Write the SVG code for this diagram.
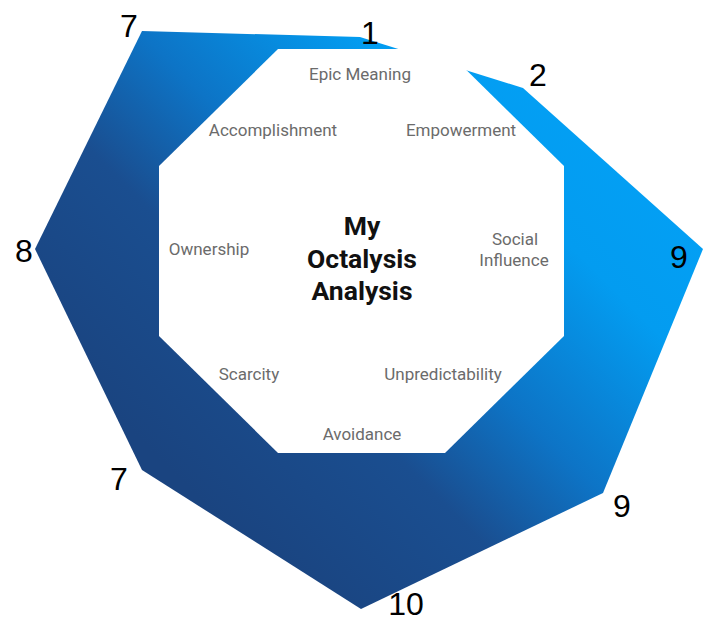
<svg xmlns="http://www.w3.org/2000/svg" width="725" height="622" viewBox="0 0 725 622">
  <style>
    .lbl { font-family: Roboto, "Liberation Sans", sans-serif; font-size: 17px; fill: #6b6b6b; text-anchor: middle; }
    .ttl { font-family: Roboto, "Liberation Sans", sans-serif; font-size: 26.5px; font-weight: bold; fill: #111; text-anchor: middle; }
    .num { font-family: "Liberation Sans", Arial, sans-serif; font-size: 32px; fill: #000; text-anchor: middle; }
  </style>
  <defs>
    <linearGradient id="blueGrad" gradientUnits="userSpaceOnUse" x1="640" y1="140" x2="240" y2="540">
      <stop offset="0" stop-color="#03A0F5"/>
      <stop offset="0.22" stop-color="#039CF0"/>
      <stop offset="0.49" stop-color="#0D74C6"/>
      <stop offset="0.7" stop-color="#1A4E90"/>
      <stop offset="1" stop-color="#1A4480"/>
    </linearGradient>
  </defs>
  <rect width="725" height="622" fill="#ffffff"/>
  <g id="score-shape">
    <polygon points="142,31 360,37 523,88 703,249 603,493 361,609 142,470 35,249" fill="url(#blueGrad)"/>
  </g>
  <g id="octagon">
    <polygon points="278,49 445,49 564,166 564,336 445,453 278,453 159,336 159,166" fill="#ffffff"/>
  </g>
  <g id="title">
    <text class="ttl" x="362" y="235">My</text>
    <text class="ttl" x="362" y="268">Octalysis</text>
    <text class="ttl" x="362" y="300">Analysis</text>
  </g>
  <g id="drives">
    <text class="lbl" x="360" y="80">Epic Meaning</text>
    <text class="lbl" x="273" y="136">Accomplishment</text>
    <text class="lbl" x="461" y="136">Empowerment</text>
    <text class="lbl" x="209" y="255">Ownership</text>
    <text class="lbl" x="515" y="245">Social</text>
    <text class="lbl" x="514" y="266">Influence</text>
    <text class="lbl" x="249" y="380">Scarcity</text>
    <text class="lbl" x="443" y="380">Unpredictability</text>
    <text class="lbl" x="362" y="440">Avoidance</text>
  </g>
  <g id="scores">
    <text class="num" x="129" y="37">7</text>
    <text class="num" x="370" y="44">1</text>
    <text class="num" x="538" y="86">2</text>
    <text class="num" x="679" y="268">9</text>
    <text class="num" x="622" y="517">9</text>
    <text class="num" x="406" y="615">10</text>
    <text class="num" x="119" y="490">7</text>
    <text class="num" x="24" y="262">8</text>
  </g>
</svg>
